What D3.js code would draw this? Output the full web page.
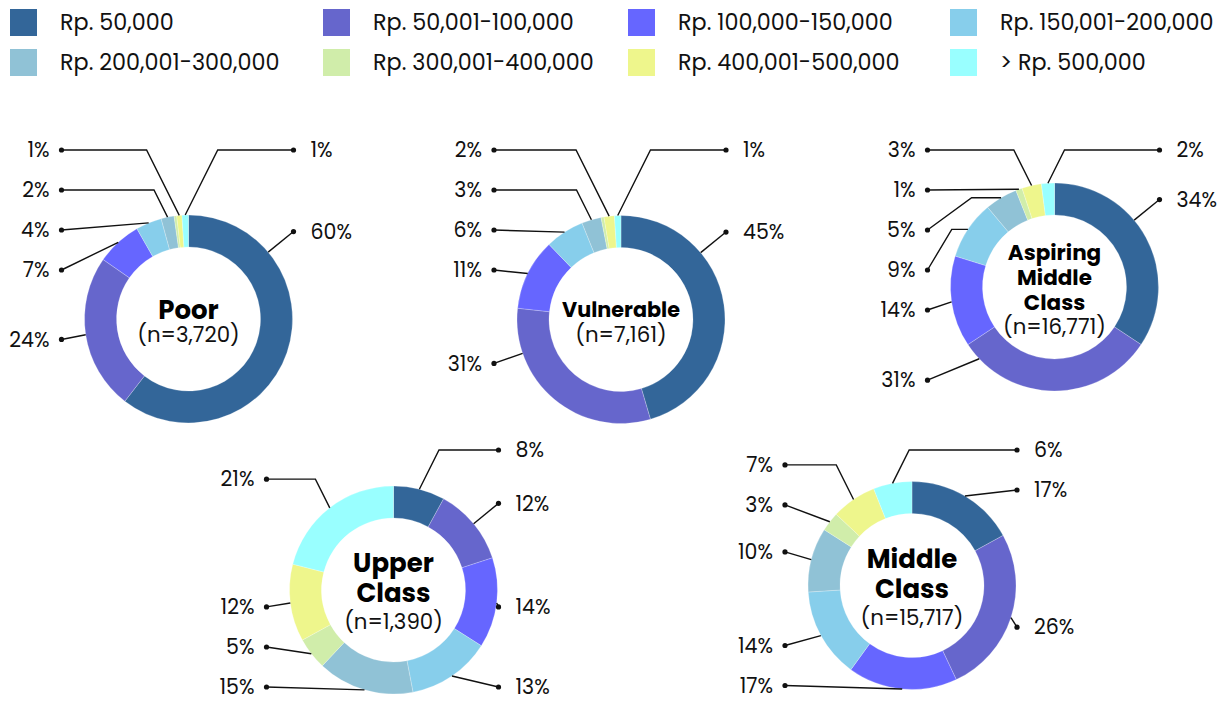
<!DOCTYPE html>
<html><head><meta charset="utf-8">
<script src="https://cdnjs.cloudflare.com/ajax/libs/d3/7.8.5/d3.min.js"></script>
<style>
html,body{margin:0;padding:0;background:#fff;}
svg{display:block;font-family:"Poppins","Open Sans",sans-serif;}
</style></head>
<body>
<svg id="chart" width="1222" height="702"></svg>
<script>
// ---- data ----
const categories = ["Rp. 50,000", "Rp. 50,001-100,000", "Rp. 100,000-150,000", "Rp. 150,001-200,000",
  "Rp. 200,001-300,000", "Rp. 300,001-400,000", "Rp. 400,001-500,000", "> Rp. 500,000"];
const groups = ["Poor", "Vulnerable", "Aspiring Middle Class", "Upper Class", "Middle Class"];
const groupTitleLines = [["Poor"], ["Vulnerable"], ["Aspiring", "Middle", "Class"], ["Upper", "Class"], ["Middle", "Class"]];
const groupN = ["3,720", "7,161", "16,771", "1,390", "15,717"];
const poorValues = [60, 24, 7, 4, 2, 0.4, 0.8, 1];
const vulnerableValues = [45, 31, 11, 6, 3, 0.45, 1.6, 1];
const aspiringValues = [34, 31, 14, 9, 5, 1, 3, 2];
const upperValues = [8, 12, 14, 13, 15, 5, 12, 21];
const middleValues = [17, 26, 17, 14, 10, 3, 7, 6];
const seriesValues = [poorValues, vulnerableValues, aspiringValues, upperValues, middleValues];

// ---- styles / layout ----
const colors = ["#336699", "#6666CC", "#6666FF", "#87CEEB", "#90C2D6", "#D0EDAA", "#EEF68C", "#99FFFF"];
const layout = [
  {cx: 188.5, cy: 319, top: 150, bottom: 390},
  {cx: 621, cy: 319.5, top: 150, bottom: 390},
  {cx: 1054.5, cy: 287, top: 150, bottom: 390},
  {cx: 393.5, cy: 590, top: 450, bottom: 687},
  {cx: 912, cy: 585.5, top: 450, bottom: 687}
];
const legendX = [10, 323, 628, 950];
const rOuter = 104, rInner = 72, gap = 40;
const labelRadius = a => 135 + 35 * Math.pow(Math.max(0, Math.cos(a)), 8);
const svg = d3.select("#chart");
const color = d3.scaleOrdinal().domain(categories).range(colors);

// ---- legend ----
const legendRow = d3.scaleLinear().domain([0, 1]).range([22.5, 62.5]);
const lg = svg.append("g");
categories.forEach((c, i) => {
  const col = i % 4, row = Math.floor(i / 4);
  const x = legendX[col], y = legendRow(row);
  lg.append("rect").attr("x", x).attr("y", y - 13.5).attr("width", 27).attr("height", 27).attr("fill", color(c));
  lg.append("text").attr("x", x + 50).attr("y", y).attr("dy", "0.35em")
    .attr("font-size", 22.3).attr("fill", "#111").text(c);
});

// ---- donuts ----
const pie = d3.pie().sort(null).value(d => d.v);
const arc = d3.arc().innerRadius(rInner).outerRadius(rOuter);
const DEG = Math.PI / 180;

function resolve(items, lo, hi) {
  items.forEach(d => { d.t = Math.max(lo, Math.min(hi, d.ny)); });
  items.sort((a, b) => a.ny - b.ny);
  const top = c => Math.max(lo, Math.min(hi - (c.items.length - 1) * gap, c.sum / c.items.length - (c.items.length - 1) * gap / 2));
  const cl = [];
  items.forEach(d => {
    cl.push({items: [d], sum: d.t});
    while (cl.length > 1) {
      const a = cl[cl.length - 2], b = cl[cl.length - 1];
      if (top(a) + a.items.length * gap > top(b)) {
        a.items = a.items.concat(b.items); a.sum += b.sum; cl.pop();
      } else break;
    }
  });
  cl.forEach(c => { const t0 = top(c); c.items.forEach((d, i) => d.y = t0 + i * gap); });
}

groups.forEach((gName, gi) => {
  const L = layout[gi];
  const data = seriesValues[gi].map((v, i) => ({v, cat: categories[i]}));
  const arcs = pie(data);
  const g = svg.append("g").attr("transform", `translate(${L.cx},${L.cy})`);
  g.selectAll("path.slice").data(arcs).join("path").attr("class", "slice")
    .attr("d", arc).attr("fill", d => color(d.data.cat))
    .attr("stroke", "#ffffff").attr("stroke-width", 0.4).attr("stroke-opacity", 0.6);

  // labels
  const labels = [];
  arcs.forEach((a, i) => {
    if (a.data.v < 0.5) return;
    const mid = (a.startAngle + a.endAngle) / 2;
    const span = a.endAngle - a.startAngle;
    const isLast = i === arcs.length - 1;
    const right = mid < Math.PI || (isLast && mid > 340 * DEG);
    let la = mid;
    if (span > 100 * DEG) {
      const pref = right ? 50 * DEG : 251 * DEG;
      la = Math.max(a.startAngle + 10 * DEG, Math.min(a.endAngle - 10 * DEG, pref));
    }
    labels.push({a, right, la, order: i, ny: L.cy - labelRadius(la) * Math.cos(la), text: Math.round(a.data.v) + "%"});
  });
  const lo = Math.max(L.top, L.cy - 170);
  const hi = Math.min(L.bottom, L.cy + 100);
  resolve(labels.filter(d => d.right), lo, hi);
  resolve(labels.filter(d => !d.right), lo, hi);

  labels.forEach(d => {
    const s = d.right ? 1 : -1;
    const P = [rOuter * Math.sin(d.la), -rOuter * Math.cos(d.la)];
    const D = [d.right ? 105 : -127, d.y - L.cy];
    const dy = P[1] - D[1];
    let pts = [P, D];
    if (dy > 25) {
      const E = [P[0] + s * dy * 0.5, D[1]];
      if (s * (E[0] - D[0]) < 0) pts = [P, E, D];
    } else if (dy < -30) {
      const E = [P[0] + s * Math.abs(D[0] - P[0]) * 0.4, P[1]];
      pts = [P, E, D];
    }
    g.append("path").attr("d", d3.line()(pts)).attr("fill", "none")
      .attr("stroke", "#111").attr("stroke-width", 1.4);
    g.append("circle").attr("cx", D[0]).attr("cy", D[1]).attr("r", 2.6).attr("fill", "#111");
    g.append("text").attr("x", D[0] + (d.right ? 17 : -12)).attr("y", D[1]).attr("dy", "0.35em")
      .attr("text-anchor", d.right ? "start" : "end").attr("font-size", 20.5).attr("fill", "#111").text(d.text);
  });

  // center text
  const lines = groupTitleLines[gi];
  const fs = lines.length === 3 ? 21.5 : 26;
  const step = lines.length === 2 ? 30 : 25;
  const total = lines.length + 1;
  const y0 = 3 - (total - 1) * step / 2;
  const tg = g.append("g");
  lines.forEach((t, i) => {
    const tx = tg.append("text").attr("x", 0).attr("y", y0 + i * step).attr("dy", "0.35em")
      .attr("text-anchor", "middle").attr("font-weight", 700).attr("font-size", fs).attr("fill", "#000").text(t);
    const w = tx.node().getComputedTextLength();
    if (w > 118) tx.attr("font-size", fs * 118 / w);
  });
  tg.append("text").attr("x", 0).attr("y", y0 + lines.length * step - (lines.length === 1 ? 0 : 1)).attr("dy", "0.35em")
    .attr("text-anchor", "middle").attr("font-size", 21.3).attr("fill", "#111").text(`(n=${groupN[gi]})`);
});
</script>
</body></html>
